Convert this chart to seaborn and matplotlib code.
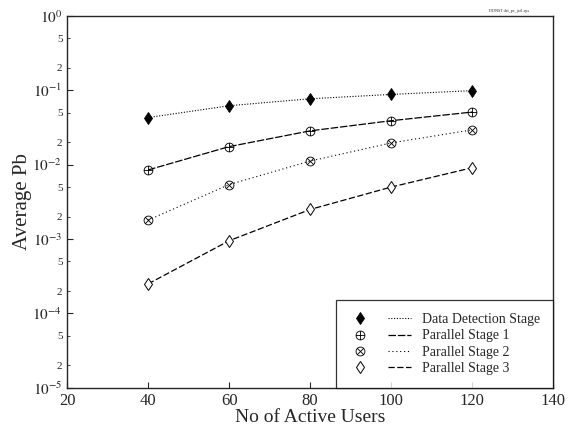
import numpy as np
import pandas as pd
import matplotlib
matplotlib.use("Agg")
import matplotlib.pyplot as plt
import seaborn as sns
from matplotlib.lines import Line2D
from matplotlib.legend_handler import HandlerTuple
from matplotlib.ticker import LogLocator, FuncFormatter

users = [40, 60, 80, 100, 120]
data_detection = [0.043, 0.062, 0.077, 0.088, 0.099]
parallel_1 = [0.0085, 0.0175, 0.0285, 0.039, 0.051]
parallel_2 = [0.0018, 0.0054, 0.0112, 0.0196, 0.0294]
parallel_3 = [0.00025, 0.00095, 0.0025, 0.005, 0.0091]
labels = ["Data Detection Stage", "Parallel Stage 1", "Parallel Stage 2", "Parallel Stage 3"]
x_ticks = [20, 40, 60, 80, 100, 120, 140]

sns.set_style("ticks")
plt.rcParams['font.family'] = ['Liberation Serif', 'DejaVu Serif']
plt.rcParams['mathtext.fontset'] = 'stix'

fig = plt.figure(figsize=(5.69, 4.30), dpi=100)
ax = fig.add_axes([0.118, 0.098, 0.854, 0.865])

series = [data_detection, parallel_1, parallel_2, parallel_3]
styles = [
    dict(marker='d', ms=6.5, mfc='black', mec='black', mew=0.6, ls=(0, (1, 1.5)), lw=0.8),
    dict(marker='$\\oplus$', ms=7, mfc='black', mec='black', mew=0.0, ls=(0, (6, 1.5)), lw=0.9),
    dict(marker='$\\otimes$', ms=7, mfc='black', mec='black', mew=0.0, ls=(0, (1, 2.5)), lw=0.8),
    dict(marker='d', ms=6.5, mfc='white', mec='black', mew=0.7, ls=(0, (5, 2)), lw=0.9),
]
df = pd.DataFrame({"users": users * 4,
                   "pb": sum(series, []),
                   "stage": sum([[l] * len(users) for l in labels], [])})
handles = []
for lab, st in zip(labels, styles):
    sub = df[df.stage == lab]
    sns.lineplot(data=sub, x="users", y="pb", ax=ax, color='black',
                 linestyle=st['ls'], linewidth=st['lw'], marker=st['marker'],
                 markersize=st['ms'], markerfacecolor=st['mfc'],
                 markeredgecolor=st['mec'], markeredgewidth=st['mew'], legend=False)
    mh = Line2D([], [], color='black', ls='none', marker=st['marker'], ms=st['ms'],
                mfc=st['mfc'], mec=st['mec'], mew=st['mew'])
    lh = Line2D([], [], color='black', ls=st['ls'], lw=st['lw'])
    handles.append((mh, lh))

ax.set_yscale('log')
ax.set_ylim(1e-5, 1)
ax.set_xlim(20, 140)
ax.set_xticks(x_ticks)
ax.yaxis.set_major_locator(LogLocator(base=10, numticks=10))
ax.yaxis.set_minor_locator(LogLocator(base=10, subs=(2, 5), numticks=10))
ax.yaxis.set_major_formatter(FuncFormatter(lambda v, p: "$10^{%d}$" % round(np.log10(v))))
ax.yaxis.set_minor_formatter(FuncFormatter(lambda v, p: "%d" % round(v / 10 ** np.floor(np.log10(v) + 1e-9))))
ax.tick_params(axis='y', which='major', labelsize=11, direction='in', length=4)
ax.tick_params(axis='y', which='minor', labelsize=8, direction='in', length=2)
ax.tick_params(axis='x', labelsize=12, direction='in', length=4)
for s in ax.spines.values():
    s.set_linewidth(1.0)
ax.set_xlabel("No of Active Users", fontsize=14, labelpad=0)
ax.set_ylabel("Average Pb", fontsize=15, labelpad=0)

leg = ax.legend(handles, labels, handler_map={tuple: HandlerTuple(ndivide=None, pad=1.2)},
                loc='lower right', fontsize=10, frameon=True, fancybox=False,
                edgecolor='black', handlelength=4.5, borderaxespad=0, borderpad=0.9,
                labelspacing=0.25)
leg.get_frame().set_linewidth(0.9)

fig.text(0.86, 0.972, "DDNST dat_pe_jat1.eps", fontsize=3)
fig.savefig("out.png", dpi=100)
